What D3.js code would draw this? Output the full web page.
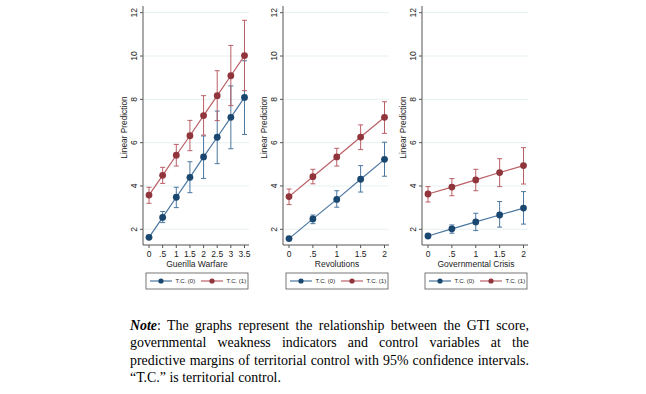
<!DOCTYPE html>
<meta charset="utf-8">
<script src="https://d3js.org/d3.v7.min.js"></script>
<style>
body {
    margin: 0;
    background: #fff;
}
#wrap {
    position: relative;
    width: 646px;
    height: 394px;
    overflow: hidden;
}
svg {
    position: absolute;
    left: 0;
    top: 0;
}
.note {
    position: absolute;
    left: 130px;
    top: 317px;
    width: 399px;
    font-family: "Liberation Serif", "Times New Roman", serif;
    font-size: 13.9px;
    line-height: 17.4px;
    color: #000;
}
.note div {
    text-align: justify;
    text-align-last: justify;
    white-space: nowrap;
}
.note div.last {
    text-align-last: left;
}
</style>
<body>
<div id="wrap">
    <div class="note">
        <div><b><i>Note</i></b>: The graphs represent the relationship between the GTI score,</div>
        <div>governmental weakness indicators and control variables at the</div>
        <div>predictive margins of territorial control with 95% confidence intervals.</div>
        <div class="last">“T.C.” is territorial control.</div>
    </div>
</div>
<script>

// ---- data ----
var titles = ["Guerilla Warfare", "Revolutions", "Governmental Crisis"]

var xGuerilla = [0, .5, 1, 1.5, 2, 2.5, 3, 3.5]
var xShort = [0, .5, 1, 1.5, 2]

// T.C. (0)
var gw0 = [1.63, 2.55, 3.48, 4.40, 5.34, 6.25, 7.17, 8.09]
var gw0lo = [1.58, 2.31, 3.00, 3.69, 4.35, 5.03, 5.72, 6.38]
var gw0hi = [1.70, 2.82, 3.94, 5.12, 6.31, 7.46, 8.62, 9.78]
// T.C. (1)
var gw1 = [3.58, 4.49, 5.42, 6.32, 7.25, 8.17, 9.09, 10.02]
var gw1lo = [3.20, 4.12, 4.92, 5.63, 6.35, 7.02, 7.71, 8.40]
var gw1hi = [3.94, 4.86, 5.92, 7.03, 8.17, 9.32, 10.49, 11.65]

var rv0 = [1.57, 2.48, 3.38, 4.31, 5.23]
var rv0lo = [1.52, 2.26, 3.02, 3.72, 4.45]
var rv0hi = [1.63, 2.66, 3.78, 4.94, 6.02]
var rv1 = [3.51, 4.43, 5.34, 6.26, 7.17]
var rv1lo = [3.14, 4.10, 4.92, 5.68, 6.43]
var rv1hi = [3.86, 4.77, 5.74, 6.82, 7.89]

var gc0 = [1.69, 2.02, 2.34, 2.66, 2.98]
var gc0lo = [1.64, 1.82, 1.94, 2.10, 2.24]
var gc0hi = [1.75, 2.20, 2.74, 3.28, 3.74]
var gc1 = [3.63, 3.95, 4.28, 4.62, 4.94]
var gc1lo = [3.26, 3.55, 3.78, 3.97, 4.09]
var gc1hi = [3.97, 4.34, 4.77, 5.26, 5.77]

var yTicks = [2, 4, 6, 8, 10, 12]
var legendLabels = ["T.C. (0)", "T.C. (1)"]

var panels = [
    { title: titles[0], x: xGuerilla, xmax: 3.5, s: [[gw0, gw0lo, gw0hi], [gw1, gw1lo, gw1hi]] },
    { title: titles[1], x: xShort, xmax: 2, s: [[rv0, rv0lo, rv0hi], [rv1, rv1lo, rv1hi]] },
    { title: titles[2], x: xShort, xmax: 2, s: [[gc0, gc0lo, gc0hi], [gc1, gc1lo, gc1hi]] }
]

var markerCol = ["#1a476f", "#90353b"]
var lineCol = ["#4a76a0", "#bb5f66"]

var width = 646, height = 394
var panelLeft = [143, 283, 422]   // x of each y axis
var axisTop = 6, axisBottom = 245

var svg = d3.select("#wrap").append("svg")
    .attr("width", width)
    .attr("height", height)
    .style("font-family", "'Liberation Sans', Arial, sans-serif")

var y = d3.scaleLinear().domain([2, 12]).range([229.3, 12.7])

function fmt(v) {
    if (v == 0) return "0"
    var s = String(v)
    return s.replace(/^0\./, ".")
}

panels.forEach(function (p, i) {
    var L = panelLeft[i]
    var x = d3.scaleLinear().domain([0, p.xmax]).range([L + 6, L + 101.5])
    var right = L + 106
    var g = svg.append("g")

    // gridlines
    g.selectAll(".grid")
        .data(yTicks)
        .enter().append("line")
        .attr("x1", L + 1).attr("x2", right)
        .attr("y1", function (d) { return y(d) })
        .attr("y2", function (d) { return y(d) })
        .attr("stroke", "#e6f0f1")
        .attr("stroke-width", 1)

    // y axis
    g.append("line")
        .attr("x1", L).attr("x2", L)
        .attr("y1", axisTop).attr("y2", axisBottom)
        .attr("stroke", "#555").attr("stroke-width", 1)
    g.selectAll(".ytick")
        .data(yTicks)
        .enter().append("line")
        .attr("x1", L - 3).attr("x2", L)
        .attr("y1", function (d) { return y(d) })
        .attr("y2", function (d) { return y(d) })
        .attr("stroke", "#555")
    g.selectAll(".ylab")
        .data(yTicks)
        .enter().append("text")
        .attr("transform", function (d) { return "translate(" + (L - 6) + "," + y(d) + ") rotate(-90)" })
        .attr("text-anchor", "middle")
        .attr("font-size", 8.5)
        .attr("fill", "#222")
        .text(function (d) { return d })
    g.append("text")
        .attr("transform", "translate(" + (L - 16) + "," + ((axisTop + axisBottom) / 2 + 2) + ") rotate(-90)")
        .attr("text-anchor", "middle")
        .attr("font-size", 8.3)
        .attr("fill", "#222")
        .text("Linear Prediction")

    // x axis
    g.append("line")
        .attr("x1", L).attr("x2", right)
        .attr("y1", axisBottom).attr("y2", axisBottom)
        .attr("stroke", "#555")
    g.selectAll(".xtick")
        .data(p.x)
        .enter().append("line")
        .attr("x1", function (d) { return x(d) })
        .attr("x2", function (d) { return x(d) })
        .attr("y1", axisBottom).attr("y2", axisBottom + 3)
        .attr("stroke", "#555")
    g.selectAll(".xlab")
        .data(p.x)
        .enter().append("text")
        .attr("x", function (d) { return x(d) })
        .attr("y", axisBottom + 12)
        .attr("text-anchor", "middle")
        .attr("font-size", 8.5)
        .attr("fill", "#222")
        .text(fmt)
    g.append("text")
        .attr("x", (L + right) / 2 + 1)
        .attr("y", axisBottom + 22)
        .attr("text-anchor", "middle")
        .attr("font-size", 8.5)
        .attr("fill", "#222")
        .text(p.title)

    // series
    p.s.forEach(function (ser, k) {
        var pts = p.x.map(function (xv, j) {
            return { x: xv, v: ser[0][j], lo: ser[1][j], hi: ser[2][j] }
        })
        var line = d3.line()
            .x(function (d) { return x(d.x) })
            .y(function (d) { return y(d.v) })
        g.append("path")
            .datum(pts)
            .attr("d", line)
            .attr("fill", "none")
            .attr("stroke", lineCol[k])
            .attr("stroke-width", 1.2)

        var ci = g.selectAll(".ci" + k)
            .data(pts)
            .enter().append("g")
            .attr("stroke", lineCol[k])
            .attr("stroke-width", 1)
        ci.append("line")
            .attr("x1", function (d) { return x(d.x) })
            .attr("x2", function (d) { return x(d.x) })
            .attr("y1", function (d) { return y(d.lo) })
            .attr("y2", function (d) { return y(d.hi) })
        ci.append("line")
            .attr("x1", function (d) { return x(d.x) - 2.5 })
            .attr("x2", function (d) { return x(d.x) + 2.5 })
            .attr("y1", function (d) { return y(d.lo) })
            .attr("y2", function (d) { return y(d.lo) })
        ci.append("line")
            .attr("x1", function (d) { return x(d.x) - 2.5 })
            .attr("x2", function (d) { return x(d.x) + 2.5 })
            .attr("y1", function (d) { return y(d.hi) })
            .attr("y2", function (d) { return y(d.hi) })

        g.selectAll(".pt" + k)
            .data(pts)
            .enter().append("circle")
            .attr("cx", function (d) { return x(d.x) })
            .attr("cy", function (d) { return y(d.v) })
            .attr("r", 3.4)
            .attr("fill", markerCol[k])
    })

    // legend
    var bx = L + 3, by = 273, bw = 102, bh = 16
    var lg = g.append("g")
    lg.append("rect")
        .attr("x", bx).attr("y", by)
        .attr("width", bw).attr("height", bh)
        .attr("fill", "#fff")
        .attr("stroke", "#555")
        .attr("stroke-width", 0.8)
    legendLabels.forEach(function (lab, k) {
        var ox = bx + 4 + k * 51
        var cy = by + bh / 2
        lg.append("line")
            .attr("x1", ox).attr("x2", ox + 22)
            .attr("y1", cy).attr("y2", cy)
            .attr("stroke", lineCol[k]).attr("stroke-width", 1.2)
        lg.append("circle")
            .attr("cx", ox + 11).attr("cy", cy).attr("r", 2.6)
            .attr("fill", markerCol[k])
        lg.append("text")
            .attr("x", ox + 25.5).attr("y", cy + 2.2)
            .attr("font-size", 6)
            .attr("fill", "#222")
            .text(lab)
    })
})

</script>
</body>
